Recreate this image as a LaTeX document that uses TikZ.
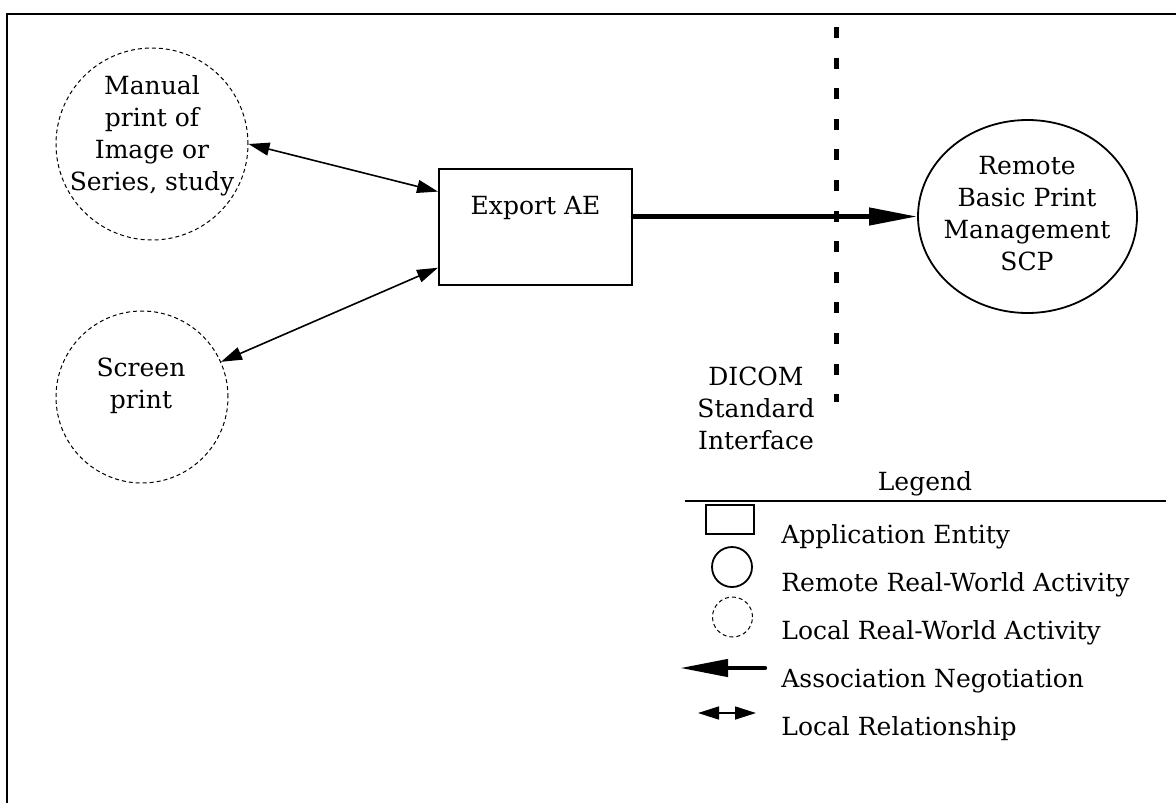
\documentclass[tikz,border=0pt]{standalone}
\usepackage{fontspec}
\setmainfont{DejaVu Serif}
\usepackage{tikz}
\usetikzlibrary{positioning, arrows.meta, calc, shapes.geometric}
\tikzset{
	every node/.style={font=\fontsize{12.5}{16}\selectfont, inner sep=0pt},
	localact/.style={circle, draw, line width=0.5pt, dash pattern=on 2pt off 1.5pt},
	remoteact/.style={ellipse, draw, line width=0.9pt},
	aebox/.style={rectangle, draw, line width=1pt},
	localrel/.style={{Triangle[length=10.5pt,width=6.5pt]}-{Triangle[length=10.5pt,width=6.5pt]}, line width=0.8pt},
	assoc/.style={-{Triangle[length=24pt,width=8.5pt]}, line width=2.2pt, line cap=round},
	dicom/.style={line width=2.8pt, dash pattern=on 5.5pt off 9.8pt},
}

\begin{document}
\begin{tikzpicture}[x=0.5pt, y=-0.5pt]
	\useasboundingbox (0,0) rectangle (1176,803);
	\draw[line width=1pt] (1176,14) -- (7,14) -- (7,803);

	\node[localact, minimum size=96pt] (MANUAL) at (152,144) {};
	\node[localact, minimum size=86pt] (SCREEN) at (142,397) {};
	\node[aebox, minimum width=96.5pt, minimum height=58pt] (EXPORT) at (535.5,227) {};
	\node[remoteact, minimum width=109.5pt, minimum height=96.5pt] (REMOTE) at (1027.5,216.5) {};
	\node[align=center] (t0) at (152,135.5) {Manual\\print of\\Image or\\Series, study};
	\node[align=center] (t1) at (141,386) {Screen\\print};
	\node[below=14pt of EXPORT.north] (t2) {Export AE};
	\node[align=center] (t3) at (1027,213.5) {Remote\\Basic Print\\Management\\SCP};
	\node[align=center] (t4) at (756,408.5) {DICOM\\Standard\\Interface};

	\coordinate (IF0) at (836.5,27);
	\coordinate (IF1) at (836.5,402);
	\draw[dicom] (IF0) -- (IF1);

	\draw[localrel] (MANUAL.east) -- ($(EXPORT.north west)!0.2!(EXPORT.south west)$);
	\draw[localrel] (SCREEN.24) -- ($(EXPORT.north west)!0.845!(EXPORT.south west)$);
	\draw[assoc] (EXPORT.east |- REMOTE.west) -- (REMOTE.west);

	% legend
	\coordinate (LG0) at (685,501);
	\coordinate (LG1) at (1166,501);
	\draw[line width=0.8pt] (LG0) -- (LG1);
	\node[anchor=base] (lg) at (925,490) {Legend};
	\node[aebox, minimum width=24pt, minimum height=14.5pt] (l0) at (730,519.5) {};
	\node[remoteact, minimum width=20pt, minimum height=20pt] (l1) at (732,567) {};
	\node[localact, minimum size=20pt] (l2) at (732.5,617) {};
	\coordinate (l3a) at (765,668);
	\coordinate (l3b) at (680,668);
	\draw[assoc] (l3a) -- (l3b);
	\coordinate (l4a) at (698,713);
	\coordinate (l4b) at (756,713);
	\draw[localrel] (l4a) -- (l4b);
	\node[anchor=base west] (d0) at (781,543) {Application Entity};
	\node[anchor=base west] (d1) at (781,591) {Remote Real-World Activity};
	\node[anchor=base west] (d2) at (781,639) {Local Real-World Activity};
	\node[anchor=base west] (d3) at (781,687) {Association Negotiation};
	\node[anchor=base west] (d4) at (781,735) {Local Relationship};
\end{tikzpicture}
\end{document}
